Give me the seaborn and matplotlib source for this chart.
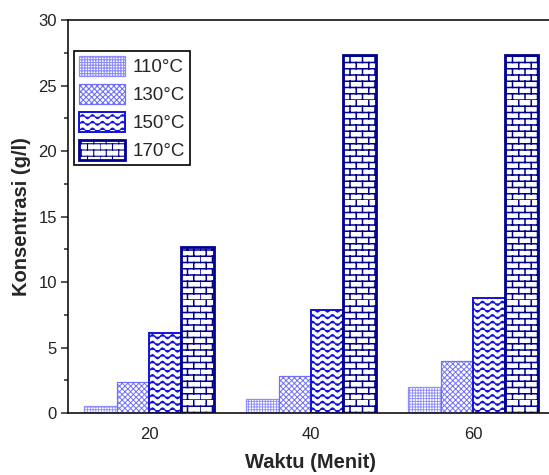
import warnings
import numpy as np
import pandas as pd
import matplotlib
matplotlib.use('Agg')
import matplotlib.pyplot as plt
from matplotlib import hatch as mhatch
from matplotlib.path import Path
import seaborn as sns

warnings.filterwarnings('ignore')

# data
waktu = ['20', '40', '60']
suhu = ['110°C', '130°C', '150°C', '170°C']
k110 = [0.55, 1.1, 2.0]
k130 = [2.35, 2.8, 4.0]
k150 = [6.1, 7.9, 8.8]
k170 = [12.7, 27.3, 27.3]


# custom hatches: brick ('b') and wave ('w')
class BrickHatch(mhatch.HatchPatternBase):
    def __init__(self, hatch, density):
        self.rows = 16 if 'b' in hatch else 0
        self.cols = 8
        self.num_vertices = self.rows * 2 + self.rows * self.cols * 2

    def set_vertices_and_codes(self, vertices, codes):
        k = 0
        for i in range(self.rows):
            y0 = i / self.rows
            y1 = (i + 1) / self.rows
            vertices[k] = (0, y0)
            vertices[k + 1] = (1, y0)
            k += 2
            off = (i % 2) * 0.5 / self.cols
            for j in range(self.cols):
                x = j / self.cols + off
                vertices[k] = (x, y0)
                vertices[k + 1] = (x, y1)
                k += 2
        codes[0::2] = Path.MOVETO
        codes[1::2] = Path.LINETO


class WaveHatch(mhatch.HatchPatternBase):
    def __init__(self, hatch, density):
        self.rows = 15 if 'w' in hatch else 0
        self.periods = 10
        self.npts = self.periods * 8 + 1
        self.num_vertices = self.rows * self.npts

    def set_vertices_and_codes(self, vertices, codes):
        xs = np.linspace(0, 1, self.npts)
        for i in range(self.rows):
            yc = (i + 0.5) / self.rows
            ys = yc + 0.3 / self.rows * np.sin(2 * np.pi * self.periods * xs)
            s = slice(i * self.npts, (i + 1) * self.npts)
            vertices[s, 0] = xs
            vertices[s, 1] = ys
            codes[s] = Path.LINETO
            codes[i * self.npts] = Path.MOVETO


mhatch._hatch_types.append(BrickHatch)
mhatch._hatch_types.append(WaveHatch)

rows = []
for lab, vals in zip(suhu, [k110, k130, k150, k170]):
    for w, v in zip(waktu, vals):
        rows.append({'Waktu': w, 'Konsentrasi': v, 'Suhu': lab})
df = pd.DataFrame(rows)

colors = ['#8c8cff', '#7070ff', '#1212dd', '#00008f']
hatches = ['++++++', 'xxxxxx', 'w', 'b']
edge_w = [0.9, 0.9, 1.4, 2.0]
hatch_w = [0.6, 0.7, 1.0, 1.1]

sns.set_style('ticks')
plt.rcParams['font.family'] = ['Liberation Sans', 'DejaVu Sans']
plt.rcParams['hatch.linewidth'] = 0.8

fig = plt.figure(figsize=(5.49, 4.75), dpi=100)
ax = fig.add_axes([0.1239, 0.1305, 0.885, 0.8274])

sns.barplot(data=df, x='Waktu', y='Konsentrasi', hue='Suhu', order=waktu,
            hue_order=suhu, palette=colors, errorbar=None, saturation=1,
            legend=False, ax=ax)

for cont, c, h, lw, hw in zip(ax.containers, colors, hatches, edge_w, hatch_w):
    for p in cont:
        p.set_facecolor('white')
        p.set_edgecolor(c)
        p.set_hatch(h)
        p.set_linewidth(lw)
        if hasattr(p, 'set_hatch_linewidth'):
            p.set_hatch_linewidth(hw)

ax.set_xlim(-0.5, 2.5)
ax.set_ylim(0, 30)
ax.set_yticks(range(0, 31, 5))
ax.set_yticks(np.arange(2.5, 30, 5), minor=True)
ax.tick_params(axis='y', which='major', length=5, width=1.1, labelsize=12,
               labelcolor='#222222', pad=3)
ax.tick_params(axis='y', which='minor', length=3, width=1.1)
ax.tick_params(axis='x', length=0, labelsize=12, labelcolor='#222222', pad=10)

for s in ['left', 'bottom', 'top']:
    ax.spines[s].set_linewidth(1.2)
    ax.spines[s].set_color('#111111')
ax.spines['right'].set_visible(False)

ax.set_xlabel('Waktu (Menit)', fontsize=14.5, fontweight='bold', labelpad=8)
ax.set_ylabel('Konsentrasi (g/l)', fontsize=14.5, fontweight='bold', labelpad=5)

leg = ax.legend(ax.containers, suhu, loc='upper left',
                bbox_to_anchor=(0.012, 0.921), borderaxespad=0, fontsize=13.5,
                frameon=True, fancybox=False, edgecolor='black', framealpha=1,
                handlelength=2.5, handleheight=1.3, labelspacing=0.4,
                handletextpad=0.4, borderpad=0.25)
leg.get_frame().set_linewidth(1.2)

fig.savefig('out.png', dpi=100)
